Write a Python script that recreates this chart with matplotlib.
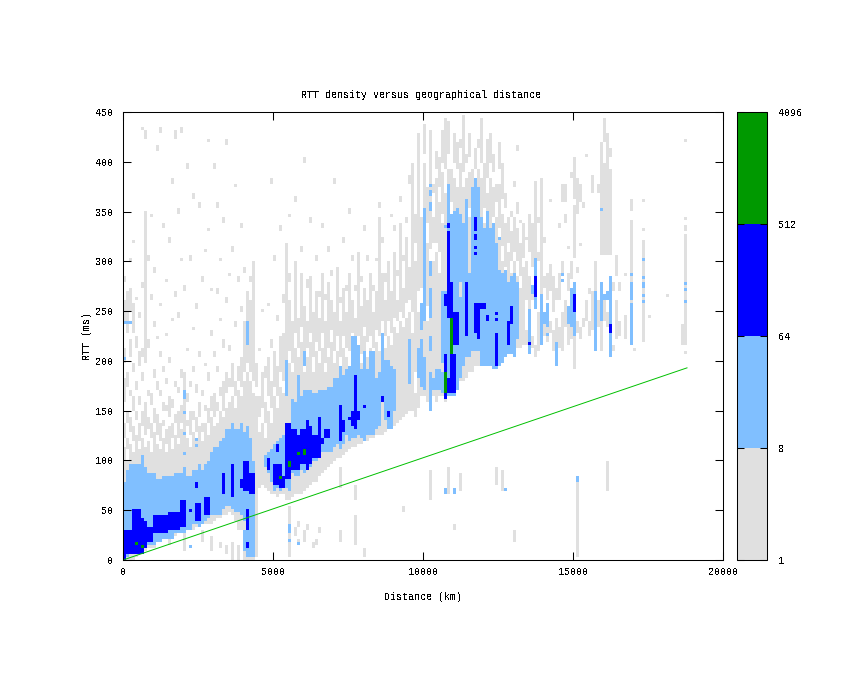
import numpy as np
import matplotlib
matplotlib.use('Agg')
import matplotlib.pyplot as plt
from matplotlib.colors import ListedColormap, BoundaryNorm

plt.rcParams['font.family'] = ['Liberation Mono', 'DejaVu Sans Mono']
plt.rcParams['font.size'] = 7.2
plt.rcParams['text.antialiased'] = False

# histogram bins: 100 km x 3 ms
km_step = 100
ms_step = 3
levels = [1, 8, 64, 512, 4096]
colors = ['#E0E0E0', '#80BFFF', '#0000FF', '#009900']

# theoretical limit line
limit_km = [0, 18800]
limit_ms = [0, 193]

# count 1..8 : rtt runs (lo, hi, lo, hi ...) for each 100 km column, ten columns a row
gray_runs = [
    # 0 km
    (0,115,125,140,160,185,200,215,240,262,280,286), (0,100,112,125,140,150,175,190,230,270), (0,118,130,146,165,172,205,222,250,275,300,304),
    (0,108,122,135,150,165,190,200,230,258,318,322), (5,128,142,150,172,180,215,225,262,266), (8,112,120,138,158,166,195,210,245,250),
    (8,125,135,150,182,190,205,215,275,280,432,436), (10,115,128,160,200,352,425,432), (12,122,132,145,165,172,215,222,300,306), (12,108,125,140,158,170,262,268,345,350),
    # 1000 km
    (16,130,140,155,185,192,235,240,290,294), (18,118,128,148,172,180,222,226,412,418), (20,112,122,138,165,172,205,210,255,260,430,436), (22,125,135,142,150,160,190,196,335,340),
    (22,110,118,132,150,158,178,184,225,230,280,284), (25,135,145,165,200,206,320,325), (26,112,125,140,155,162,240,244,380,385), (26,128,138,148,175,180,265,270,425,432),
    (28,118,125,150,168,175,245,250,350,354), (28,132,140,158,185,192,300,304,430,436),
    # 2000 km
    (10,190,270,276), (30,125,135,142,160,168,210,215,395,400), (30,115,128,150,175,180,300,306), (32,130,142,152,190,196,232,236,365,370),
    (34,122,130,145,170,178,252,258), (34,135,145,160,205,212,355,360), (36,120,130,140,165,172,280,285), (36,138,150,158,195,200,310,314),
    (38,128,140,155,182,190,330,335,420,424), (38,145,152,165,225,232,270,274),
    # 3000 km
    (40,135,145,170,205,210,395,400), (42,140,150,160,190,196,268,274,355,360), (42,150,165,175,240,245,300,304), (45,145,152,180,215,222,340,345), (45,155,170,190,260,265,418,424),
    (48,160,175,185,210,218,285,290), (45,165,175,200,310,315), (40,155,165,180,235,240,375,380), (30,172,182,195,280,286), (30,165,175,205,250,255,335,340),
    # 4000 km
    (0,180,190,240,290,296), (0,190,198,270), (0,182,190,262,280,286), (0,170,180,300), (5,165,175,200), (73,130,145,165,210,215), (75,140,155,190,250,254), (72,125,140,160,185,195), (70,150,165,205,255,260), (68,140,155,180,215,222,380,384),
    # 5000 km
    (68,165,175,210,300,308), (65,155,165,195,240,248), (68,175,190,225,330,336), (68,170,180,230,260,268), (60,185,195,320), (5,55,62,200,210,262,280,290,345,350), (65,95,105,190,200,240), (68,215,230,300,360,366), (68,205,215,245,20,23), (68,220,235,290,310,316),
    # 6000 km
    (70,190,200,255,400,406), (72,205,215,240,275,282), (75,220,230,285,340,346), (78,190,205,250,12,18), (80,210,220,270,300,306), (85,200,210,245,265,272), (88,215,228,290,335,340), (92,190,200,240,262,268), (95,205,215,280,310,316), (98,220,232,262,285,292),
    # 7000 km
    (100,200,212,250,380,385), (102,210,225,295), (73,93,104,195,205,240,258,265), (106,215,225,275,320,326), (108,205,215,250,272,278), (112,195,210,290,350,356), (114,220,228,262,300,306), (60,75,116,200,215,245,270,276), (118,212,225,310), (118,198,208,255,280,286),
    # 8000 km
    (120,225,235,275,330,336), (122,205,220,262,300,308), (124,215,225,290), (124,205,215,250,270,278), (126,220,232,270,300,305), (128,210,225,345,355,362), (128,230,240,290,320,326), (130,215,225,262,280,288), (132,225,240,300), (135,218,230,270,345,350),
    # 9000 km
    (137,235,245,310,330,338), (140,228,240,262,285,292), (142,240,250,340,360,366), (145,235,245,275,300,308), (147,245,260,325,340,346), (150,250,262,295,380,388), (150,230,250,400), (145,170,190,300,320,350), (155,250,270,430), (165,260,275,345),
    # 10000 km
    (165,250,265,400,410,440), (160,240,255,320,340,375), (60,90,150,300,312,432), (165,300,320,345,370,380), (160,310,320,385,395,412), (165,290,310,362,375,405), (165,340,350,390,400,432), (160,370,395,445), (70,90,170,300,315,395,408,442), (170,350,362,395),
    # 11000 km
    (175,320,335,385,400,430), (175,375,395,420), (180,300,315,400,415,425), (180,270,285,375,390,448), (185,310,325,385,400,410), (190,345,355,390,405,430), (190,300,315,360,375,395), (195,330,345,380,395,415), (195,325,335,395,415,425), (195,285,300,385,400,445),
    # 12000 km
    (200,340,355,400), (195,320,330,370,385,425), (200,300,315,385,400,430), (200,330,345,375,390,410), (75,95,205,295,305,345,360,378), (205,325,335,380,395,420), (70,90,210,300,315,350,365,400), (205,285,295,340,355,370), (210,310,320,345), (210,290,300,330,345,352),
    # 13000 km
    (210,300,310,345,375,382), (215,285,300,335,350,362,412,418), (215,275,285,320,340,344), (218,295,305,340), (218,232,262,300,322,326), (218,228,245,285,310,350), (215,225,262,270,295,340), (205,218,300,383), (212,250,300,310,340,345), (217,385),
    # 14000 km
    (225,240,275,285,320,324), (220,235,262,290), (228,240,270,298,360,364), (210,232,250,285), (205,245,262,275), (215,235,262,290,335,340), (212,250,285,300,360,380), (235,262,340,350,362,380), (218,240,270,290,312,317), (222,240,282,300,385,390),
    # 15000 km
    (193,250,303,357,363,407), (230,240,290,295,350,385), (222,235,315,320,362,380), (235,245,355,360), (240,262,405,410), (225,240,268,274), (232,272,370,387), (225,240,270,300), (235,262,370,380), (212,240,307,393,395,420),
    # 16000 km
    (240,262,307,400,420,445), (235,250,307,430), (215,240,307,393,405,415), (212,216,270,280), (222,262,285,307), (225,240,270,280), (), (223,247,285,290), (), (217,343,353,363),
    # 17000 km
    (210,215), (), (), (220,323,330,334,360,364), (), (243,246), (), (), (), (),
    # 18000 km
    (), (264,267), (), (), (), (), (217,237), (207,210,217,327,332,336,342,345,420,423), (),
]

# stragglers below the main band: km from, km to, rtt lo, rtt hi
gray_low = [
    (1000,1100,12,27), (1500,1600,15,28), (2600,2700,18,30), (2900,3000,10,25), (3200,3300,12,20), (3400,3500,8,16), (3600,3700,2,20), (3800,3900,0,15), (4000,4100,0,10),
    (5700,5800,25,35), (5800,5900,35,40), (6000,6100,20,30), (6100,6200,30,36), (6400,6500,15,22), (6500,6600,28,34), (7200,7300,20,30), (7700,7800,15,45), (8000,8100,5,12), (9300,9400,48,54),
    (10800,10900,68,95), (11200,11300,70,88), (15100,15200,5,78), (16100,16200,70,100), (13000,13100,20,30), (11000,11100,30,36),
]

# count 8..64
light_runs = [
    (0,100,0,80), (0,100,203,206), (0,300,238,241), (100,200,5,90), (200,300,8,97), (300,600,8,98), (600,700,10,107), (700,800,13,93), (800,1100,15,87), (1100,1300,20,83),
    (1300,1700,23,85), (1700,2000,27,88), (2000,2100,28,93), (2000,2100,147,152), (2000,2100,163,173), (2000,2100,107,110), (2000,2100,127,130), (2100,2300,32,86), (2200,2300,13,16),
    (2300,2500,36,90), (2400,2500,115,118), (2400,2500,122,125), (2500,2600,35,97), (2600,2700,38,90), (2700,2800,40,97), (2800,2900,42,100), (2900,3000,45,110),
    (3000,3200,47,114), (3200,3300,45,120), (3300,3400,52,125), (3400,3600,55,132), (3600,3700,52,140), (3700,3900,48,132), (3900,4000,45,138),
    (4000,4100,10,30), (4000,4100,40,130), (4100,4200,5,135), (4100,4200,217,240), (4200,4300,5,125), (4300,4400,5,100),
    (4700,4800,95,105), (4800,4900,87,110), (4900,5000,80,112), (5000,5100,70,117), (5100,5200,73,120), (5200,5300,70,123), (5300,5400,73,127),
    (5400,5500,72,140), (5400,5500,166,203), (5500,5600,70,133), (5500,5600,28,38), (5500,5600,20,23), (5600,5700,87,163), (5700,5800,85,160), (5800,5900,85,188), (5800,5900,15,17),
    (5900,6000,92,167), (6000,6100,87,172), (6000,6100,197,212), (6100,6300,95,172), (6300,6500,100,168), (6500,6600,105,172), (6600,6800,108,173), (6800,7000,110,176),
    (7000,7100,115,183), (7100,7200,117,185), (7200,7300,113,197), (7300,7400,117,187), (7400,7500,127,192), (7500,7600,122,197), (7600,7800,125,226), (7800,7900,128,218),
    (7900,8000,125,193), (8000,8100,120,210), (8100,8200,128,193), (8200,8400,128,210), (8400,8500,133,185), (8500,8600,137,190), (8600,8700,165,228), (8700,8800,143,203),
    (8800,8900,133,202), (8900,9000,133,195), (9000,9100,150,193), (9500,9600,177,223), (9800,9900,183,215), (9900,10000,232,260), (9900,10000,175,223),
    (10000,10100,240,355), (10000,10100,173,205), (10200,10300,150,190), (10200,10300,210,225), (10200,10300,245,275), (10200,10300,285,300), (10200,10300,352,361), (10200,10300,367,373), (10200,10300,376,379),
    (10300,10400,173,185), (10400,10500,173,193), (10500,10600,173,193), (10600,10700,170,190), (10600,10700,200,270), (10700,10800,209,270), (10700,10800,334,337),
    (10800,10900,165,379), (10900,11000,165,350), (11000,11100,167,352), (11100,11200,172,355), (11200,11300,185,265), (11200,11300,280,350), (11300,11400,195,340), (11400,11500,205,363), (11500,11600,205,290),
    (11600,11900,210,377), (11700,11800,377,385), (11900,12000,197,345), (12000,12100,197,333), (12100,12200,197,352), (12200,12300,197,335), (12300,12400,193,340), (12400,12500,193,320),
    (12500,12600,195,292), (12500,12600,322,326), (12600,12700,200,290), (12700,12800,205,293), (12800,12900,207,280), (12900,13000,207,285), (13000,13100,205,288), (13100,13200,223,280),
    (13500,13600,207,252), (13600,13700,268,277), (13700,13800,253,303), (13900,14000,218,268), (14000,14100,238,250), (14100,14200,235,259), (14100,14200,227,229),
    (14400,14500,197,221), (14600,14700,287,289), (14600,14700,281,283), (14800,14900,238,256), (14900,15000,235,274), (15000,15100,226,280), (15700,15800,212,270),
    (15900,16000,241,280), (15900,16000,351,354), (16000,16100,262,268), (16100,16200,262,270), (16200,16300,205,285), (16900,17000,218,259), (16900,17000,262,280), (16900,17000,287,289),
    (17300,17400,259,262), (17300,17400,265,268), (17300,17400,274,280), (17300,17400,283,286), (17300,17400,302,304), (18700,18800,259,262), (18700,18800,271,274), (18700,18800,277,280),
    (15100,15200,78,84), (10700,10800,68,74), (11000,11100,68,72), (12700,12800,70,74),
]

# count 64..512
blue_runs = [
    (0,100,2,32), (100,300,8,32), (300,600,8,53), (600,700,8,43), (700,800,13,40), (800,1000,20,35), (1000,1100,27,47), (1100,1500,27,47), (1500,1900,30,50), (1900,2100,35,62), (2000,2100,38,58),
    (2200,2300,50,52), (2400,2600,40,58), (2400,2500,72,80), (2700,2900,47,65), (3300,3400,67,89), (3600,3700,65,98), (3900,4000,72,82), (4000,4200,70,100), (4100,4200,30,53), (4100,4200,14,18), (4200,4400,68,88),
    (4800,4900,92,104), (5000,5300,77,97), (5100,5200,110,118), (5200,5400,73,85), (5400,5600,83,140), (5600,5800,91,132), (5800,5900,90,128), (5900,6100,96,133), (6100,6200,92,143),
    (6200,6300,97,137), (6300,6500,104,128), (6500,6600,104,146), (6600,6700,117,125), (6700,6900,125,133), (7200,7300,122,158), (7300,7400,130,143), (7500,7600,143,146), (7600,7700,135,150),
    (7700,7800,132,188), (7800,7900,143,152), (8000,8100,155,158), (8600,8700,161,167), (8800,8900,146,152),
    (10700,10800,164,170), (10700,10800,190,209), (10700,10800,256,268), (10800,10900,170,185), (10800,10900,243,331), (10800,10900,334,340), (10900,11000,170,280), (11000,11100,170,207), (11000,11200,218,250),
    (11400,11500,227,280), (11700,11800,230,259), (11700,11800,332,346), (11700,11800,322,328), (11700,11800,314,316), (11700,11800,308,310), (11800,11900,222,259), (11900,12100,254,259), (12100,12200,240,247),
    (12400,12500,197,229), (12400,12500,247,250), (12400,12500,241,244), (12800,12900,218,241), (12900,13000,239,256), (13500,13600,218,220), (13700,13800,265,286), (15000,15100,250,268), (16200,16300,229,238),
]

# count 512..4096
green_runs = [
    (400,500,17,20), (600,700,14,17), (5200,5300,83,86), (5500,5600,93,100), (5800,5900,105,110), (6000,6100,107,113), (10700,10800,170,191), (10900,11000,207,244),
]

grid = np.zeros((450 // ms_step, 20000 // km_step))


def paint(km_from, km_to, lo, hi, count):
    c0 = km_from // km_step
    c1 = km_to // km_step
    r0 = lo // ms_step
    r1 = max(hi // ms_step, r0 + 1)
    grid[r0:r1, c0:c1] = count


for col, runs in enumerate(gray_runs):
    for lo, hi in zip(runs[::2], runs[1::2]):
        paint(col * km_step, (col + 1) * km_step, lo, hi, 2)
for run in gray_low:
    paint(*run, 2)
for run in light_runs:
    paint(*run, 20)
for run in blue_runs:
    paint(*run, 200)
for run in green_runs:
    paint(*run, 1000)

fig = plt.figure(figsize=(8.45, 6.73), dpi=100)
ax = fig.add_axes([123 / 845, 1 - 560 / 673, 600 / 845, 448 / 673])
cax = fig.add_axes([737 / 845, 1 - 560 / 673, 30 / 845, 448 / 673])

cmap = ListedColormap(colors)
norm = BoundaryNorm(levels, cmap.N)
xe = np.arange(0, 20001, km_step)
ye = np.arange(0, 451, ms_step)
mesh = ax.pcolormesh(xe, ye, np.ma.masked_equal(grid, 0), cmap=cmap, norm=norm, antialiased=False, linewidth=0)
ax.plot(limit_km, limit_ms, color='#00C000', lw=0.7)

ax.set_xlim(0, 20000)
ax.set_ylim(0, 450)
ax.set_xticks(np.arange(0, 20001, 5000))
ax.set_yticks(np.arange(0, 451, 50))
ax.tick_params(direction='in', top=True, right=True, length=6, width=0.75)
ax.tick_params(axis='x', pad=5)
ax.tick_params(axis='y', pad=7)
ax.set_title('RTT density versus geographical distance', pad=10, fontsize=7.2, x=0.4975)
ax.set_xlabel('Distance (km)', labelpad=11)
ax.set_ylabel('RTT (ms)', labelpad=2)
for s in ax.spines.values():
    s.set_linewidth(0.75)

cb = fig.colorbar(mesh, cax=cax, spacing='uniform')
cb.set_ticks(levels)
cb.set_ticklabels([str(v) for v in levels])
cb.minorticks_off()
cax.tick_params(direction='in', left=True, right=True, length=5, width=0.75, pad=8)
cb.outline.set_linewidth(0.75)

fig.savefig('out.png', dpi=100)
